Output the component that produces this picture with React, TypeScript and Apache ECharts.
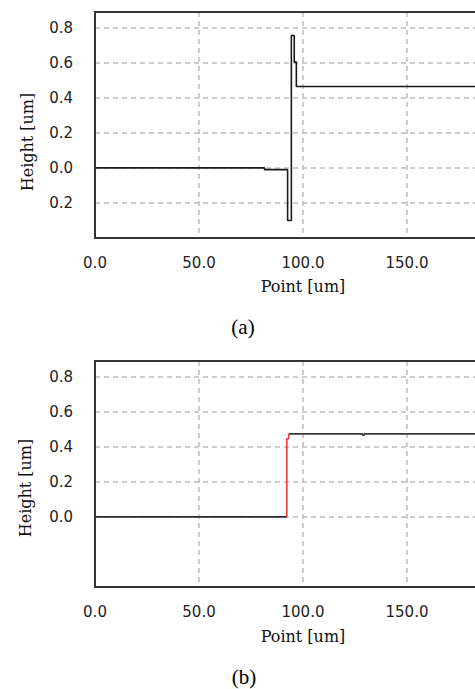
import React, { useEffect, useRef } from "react";
import * as echarts from "echarts";

// Chart (a): profile with spikes
const profileA: [number, number][] = [
  [0, 0], [81.5, 0], [81.5, -0.01], [92.6, -0.01], [92.6, -0.3],
  [94.4, -0.3], [94.4, 0.756], [95.8, 0.756], [95.8, 0.604],
  [96.8, 0.604], [96.8, 0.465], [200, 0.465],
];
// Chart (b): corrected profile
const profileBLow: [number, number][] = [[0, 0], [92.2, 0]];
const profileBStep: [number, number][] = [
  [92.2, 0], [92.2, 0.446], [93.1, 0.446], [93.1, 0.474],
];
const profileBHigh: [number, number][] = [
  [93.1, 0.474], [128.6, 0.474], [128.6, 0.467], [129.4, 0.467],
  [129.4, 0.474], [200, 0.474],
];

const xTicks = [0, 50, 100, 150];
const xTickLabels = ["0.0", "50.0", "100.0", "150.0"];
const yTicksA = [-0.2, 0, 0.2, 0.4, 0.6, 0.8];
const yTickLabelsA = ["0.2", "0.0", "0.2", "0.4", "0.6", "0.8"];
const yTicksB = [0, 0.2, 0.4, 0.6, 0.8];
const yTickLabelsB = ["0.0", "0.2", "0.4", "0.6", "0.8"];

const tickFont = "DejaVu Sans";
const titleFont = "DejaVu Serif";

function labelFor(ticks: number[], labels: string[]) {
  return (v: number) => {
    const i = ticks.findIndex((t) => Math.abs(t - v) < 1e-6);
    return i >= 0 ? labels[i] : "";
  };
}

const GRID_A = { left: 95, top: 12, width: 416, height: 226 };
const GRID_B = { left: 95, top: 361, width: 416, height: 226 };

export default function App() {
  const ref = useRef<HTMLDivElement>(null);
  useEffect(() => {
    if (!ref.current) return;
    const chart = echarts.init(ref.current, undefined, { renderer: "svg" });
    const gridDash = { type: [5, 4] as any, color: "#bdbdbd", width: 1.5 };
    const mkX = (gi: number) => ({
      type: "value",
      gridIndex: gi,
      min: 0,
      max: 200,
      interval: 50,
      axisLine: { show: false },
      axisTick: { show: false },
      axisLabel: {
        margin: 17,
        fontFamily: tickFont,
        fontSize: 15,
        color: "#222",
        formatter: labelFor(xTicks, xTickLabels),
      },
      splitLine: { show: true, showMinLine: false, showMaxLine: false, lineStyle: gridDash },
    });
    const mkY = (gi: number, ticks: number[], labels: string[], split: boolean) => ({
      type: "value",
      gridIndex: gi,
      min: -0.4,
      max: 0.89,
      interval: 0.2,
      axisLine: { show: false },
      axisTick: { show: false },
      axisLabel: {
        margin: 22,
        fontFamily: tickFont,
        fontSize: 15,
        color: "#222",
        formatter: labelFor(ticks, labels),
      },
      splitLine: { show: split, showMinLine: false, showMaxLine: false, lineStyle: gridDash },
    });
    const border = (g: typeof GRID_A) => ({
      type: "rect",
      z: 100,
      silent: true,
      shape: { x: g.left, y: g.top, width: g.width, height: g.height },
      style: { fill: "none", stroke: "#333", lineWidth: 2 },
    });
    chart.setOption({
      animation: false,
      grid: [
        { ...GRID_A, show: false },
        { ...GRID_B, show: false },
      ],
      xAxis: [mkX(0), mkX(1)],
      yAxis: [mkY(0, yTicksA, yTickLabelsA, true), mkY(1, yTicksB, yTickLabelsB, false)],
      graphic: [
        border(GRID_A),
        border(GRID_B),
        { type: "text", x: 303, y: 286, style: { text: "Point [um]", font: `16px '${titleFont}'`, fill: "#111", align: "center", verticalAlign: "middle" } },
        { type: "text", x: 303, y: 636, style: { text: "Point [um]", font: `16px '${titleFont}'`, fill: "#111", align: "center", verticalAlign: "middle" } },
        { type: "text", x: 27, y: 142, rotation: Math.PI / 2, style: { text: "Height [um]", font: `16px '${titleFont}'`, fill: "#111", align: "center", verticalAlign: "middle" } },
        { type: "text", x: 25, y: 488, rotation: Math.PI / 2, style: { text: "Height [um]", font: `16px '${titleFont}'`, fill: "#111", align: "center", verticalAlign: "middle" } },
        { type: "text", x: 243, y: 327, style: { text: "(a)", font: "21px 'Liberation Serif'", fill: "#000", align: "center", verticalAlign: "middle" } },
        { type: "text", x: 244, y: 677, style: { text: "(b)", font: "21px 'Liberation Serif'", fill: "#000", align: "center", verticalAlign: "middle" } },
      ],
      series: [
        {
          type: "line",
          xAxisIndex: 0,
          yAxisIndex: 0,
          data: profileA,
          symbol: "none",
          lineStyle: { color: "#1a1a1a", width: 1.6 },
          z: 10,
        },
        {
          // horizontal grid lines of chart (b)
          type: "line",
          xAxisIndex: 1,
          yAxisIndex: 1,
          data: [],
          symbol: "none",
          z: 0,
          markLine: {
            silent: true,
            z: 0,
            symbol: "none",
            label: { show: false },
            lineStyle: gridDash,
            data: yTicksB.map((v) => ({ yAxis: v })),
          },
        },
        {
          type: "line",
          xAxisIndex: 1,
          yAxisIndex: 1,
          data: profileBLow,
          symbol: "none",
          lineStyle: { color: "#2a2a2a", width: 1.8 },
          z: 10,
        },
        {
          type: "line",
          xAxisIndex: 1,
          yAxisIndex: 1,
          data: profileBHigh,
          symbol: "none",
          lineStyle: { color: "#3a3a3a", width: 1.8 },
          z: 10,
        },
        {
          type: "line",
          xAxisIndex: 1,
          yAxisIndex: 1,
          data: profileBStep,
          symbol: "none",
          lineStyle: { color: "#e03a3a", width: 1.6 },
          z: 11,
        },
      ],
    });
    return () => chart.dispose();
  }, []);
  return (
    <div style={{ position: "fixed", left: 0, top: 0, width: 475, height: 689, overflow: "hidden", background: "#fff" }}>
      <div ref={ref} style={{ width: 530, height: 689 }} />
    </div>
  );
}
